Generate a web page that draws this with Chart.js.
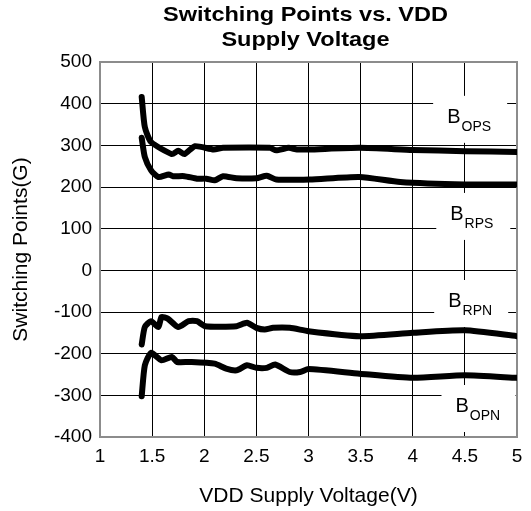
<!DOCTYPE html>
<html>
<head>
<meta charset="utf-8">
<script src="https://cdn.jsdelivr.net/npm/chart.js@4.4.0/dist/chart.umd.min.js"></script>
<style>
  html, body { margin: 0; padding: 0; background: #fff; }
  #wrap { width: 531px; height: 511px; }
</style>
</head>
<body>
<div id="wrap"><canvas id="myChart" width="531" height="511"></canvas></div>
<script>
// values: supply voltage (V) and switching point (G)
const bopsV = [1.40, 1.43, 1.49, 1.69, 1.75, 1.81, 1.91, 2.09, 2.18, 2.63, 2.69, 2.81, 2.89, 3.0, 3.49, 4.0, 4.5, 5.0];
const bopsG = [416, 344, 308, 279, 287, 279, 298, 290, 294, 294, 288, 294, 290, 290, 294, 289, 286, 284];

const brpsV = [1.40, 1.43, 1.49, 1.56, 1.66, 1.70, 1.81, 1.93, 2.02, 2.10, 2.18, 2.31, 2.50, 2.60, 2.69, 3.01, 3.49, 3.88, 4.5, 5.0];
const brpsG = [318, 272, 240, 224, 230, 226, 226, 220, 220, 216, 226, 221, 221, 227, 218, 218, 224, 212, 206, 206];

const brpnV = [1.40, 1.43, 1.49, 1.56, 1.59, 1.65, 1.75, 1.85, 1.93, 2.01, 2.31, 2.41, 2.50, 2.58, 2.66, 2.82, 3.0, 3.49, 4.0, 4.5, 5.0];
const brpnG = [-178, -136, -122, -136, -112, -116, -136, -122, -122, -134, -134, -126, -138, -142, -138, -138, -146, -158, -150, -144, -158];

const bopnV = [1.40, 1.43, 1.49, 1.59, 1.69, 1.74, 1.86, 2.10, 2.21, 2.31, 2.41, 2.50, 2.60, 2.68, 2.82, 2.92, 3.0, 3.49, 4.0, 4.5, 5.0];
const bopnG = [-302, -228, -198, -216, -208, -220, -220, -224, -236, -240, -228, -234, -234, -226, -244, -244, -237, -248, -258, -252, -258];

const xTicks = [1, 1.5, 2, 2.5, 3, 3.5, 4, 4.5, 5];
const yTicks = [-400, -300, -200, -100, 0, 100, 200, 300, 400, 500];

const titleLines = ['Switching Points vs. VDD', 'Supply Voltage'];

// curve labels: main letter, subscript, anchor (data units)
const curveLabels = [
  { main: 'B', sub: 'OPS', x: 4.33, y: 354 },
  { main: 'B', sub: 'RPS', x: 4.36, y: 121 },
  { main: 'B', sub: 'RPN', x: 4.34, y: -88 },
  { main: 'B', sub: 'OPN', x: 4.41, y: -340 }
];

function pts(xs, ys) {
  return xs.map((x, i) => ({ x: x, y: ys[i] }));
}

function line(data) {
  return {
    data: data,
    borderColor: '#000',
    borderWidth: 6,
    pointRadius: 0,
    tension: 0.2,
    borderCapStyle: 'round',
    borderJoinStyle: 'round',
    fill: false
  };
}

const FONT = '"Liberation Sans", Arial, sans-serif';

const labelsPlugin = {
  id: 'curveLabels',
  beforeDatasetsDraw(chart) {
    const ctx = chart.ctx;
    const xs = chart.scales.x, ys = chart.scales.y;
    ctx.save();
    ctx.fillStyle = '#fff';
    curveLabels.forEach(l => {
      const px = xs.getPixelForValue(l.x);
      const py = ys.getPixelForValue(l.y);
      ctx.fillRect(px - 14, py - 27, 74, 47);
    });
    // gray frame round the plot
    const a = chart.chartArea;
    ctx.strokeStyle = '#8c8c8c';
    ctx.lineWidth = 2;
    ctx.strokeRect(a.left, a.top, a.right - a.left, a.bottom - a.top);
    ctx.restore();
  },
  afterDatasetsDraw(chart) {
    const ctx = chart.ctx;
    const xs = chart.scales.x, ys = chart.scales.y;
    ctx.save();
    ctx.fillStyle = '#000';
    ctx.textBaseline = 'alphabetic';
    ctx.textAlign = 'left';
    curveLabels.forEach(l => {
      const px = xs.getPixelForValue(l.x);
      const py = ys.getPixelForValue(l.y);
      ctx.font = '20px ' + FONT;
      ctx.fillText(l.main, px, py);
      const w = ctx.measureText(l.main).width;
      ctx.font = '14px ' + FONT;
      ctx.fillText(l.sub, px + w + 1, py + 8);
    });
    ctx.restore();
  },
  afterDraw(chart) {
    const ctx = chart.ctx;
    const a = chart.chartArea;
    const cx = (a.left + a.right) / 2 - 3;
    const sx = 1.12;
    ctx.save();
    ctx.fillStyle = '#000';
    ctx.textAlign = 'center';
    ctx.textBaseline = 'alphabetic';
    ctx.font = 'bold 21px ' + FONT;
    ctx.scale(sx, 1);
    ctx.fillText(titleLines[0], cx / sx, 21);
    ctx.fillText(titleLines[1], cx / sx, 46);
    ctx.restore();
  }
};

const ctx = document.getElementById('myChart');

new Chart(ctx, {
  type: 'line',
  data: {
    datasets: [
      line(pts(bopsV, bopsG)),
      line(pts(brpsV, brpsG)),
      line(pts(brpnV, brpnG)),
      line(pts(bopnV, bopnG))
    ]
  },
  options: {
    responsive: false,
    animation: false,
    layout: { padding: { top: 62, right: 14, left: 0, bottom: 0 } },
    plugins: {
      legend: { display: false },
      tooltip: { enabled: false }
    },
    scales: {
      x: {
        type: 'linear',
        min: xTicks[0],
        max: xTicks[xTicks.length - 1],
        afterBuildTicks: s => { s.ticks = xTicks.map(v => ({ value: v })); },
        afterFit: s => { s.height = 74; s.paddingLeft = 0; s.paddingRight = 0; },
        ticks: {
          color: '#000', padding: 8, maxRotation: 0,
          font: { family: FONT, size: 19 },
          callback: v => String(v)
        },
        grid: { color: '#000', lineWidth: 1, drawTicks: false },
        border: { display: false },
        title: {
          display: true,
          text: 'VDD Supply Voltage(V)',
          color: '#000',
          font: { family: FONT, size: 21 },
          padding: { top: 0, bottom: 2 }
        }
      },
      y: {
        type: 'linear',
        min: yTicks[0],
        max: yTicks[yTicks.length - 1],
        afterBuildTicks: s => { s.ticks = yTicks.map(v => ({ value: v })); },
        afterFit: s => { s.width = 100; },
        ticks: { color: '#000', padding: 8, font: { family: FONT, size: 19 } },
        grid: { color: '#000', lineWidth: 1, drawTicks: false },
        border: { display: false },
        title: {
          display: true,
          text: 'Switching Points(G)',
          color: '#000',
          font: { family: FONT, size: 21 },
          padding: { top: 9, bottom: 0 }
        }
      }
    }
  },
  plugins: [labelsPlugin]
});
</script>
</body>
</html>
